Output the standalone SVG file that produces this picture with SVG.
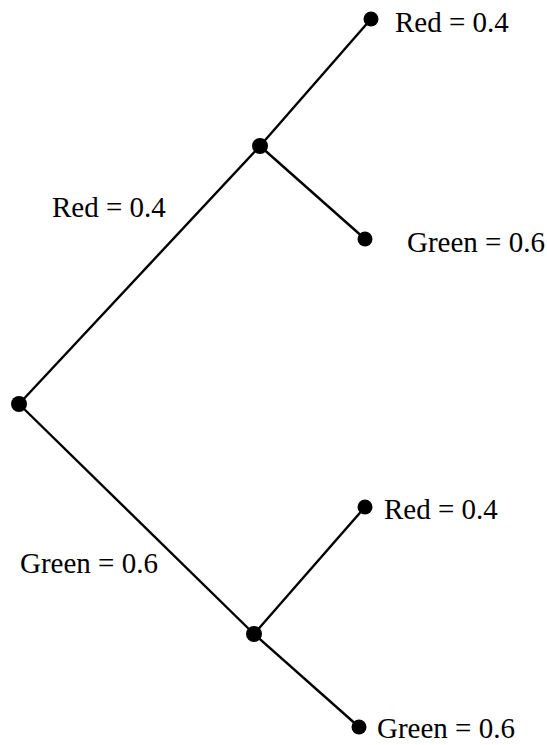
<svg xmlns="http://www.w3.org/2000/svg" width="547" height="745" viewBox="0 0 547 745">
<style>
.e{stroke:#000;stroke-width:2.4;fill:none}
.n{fill:#000}
.t{font-family:'Liberation Serif','Times New Roman',serif;font-size:29px;fill:#000}
</style>
<rect width="547" height="745" fill="#fff"/>
<g id="connectors">
<line class="e" x1="19" y1="404" x2="260" y2="146"/>
<line class="e" x1="260" y1="146" x2="371" y2="19"/>
<line class="e" x1="260" y1="146" x2="365" y2="239"/>
<line class="e" x1="19" y1="404" x2="254" y2="634"/>
<line class="e" x1="254" y1="634" x2="365" y2="507"/>
<line class="e" x1="254" y1="634" x2="359" y2="727"/>
</g>
<g id="root"><circle class="n" cx="19" cy="404" r="8"/></g>
<g id="upper"><circle class="n" cx="260" cy="146" r="8"/></g>
<g id="lower"><circle class="n" cx="254" cy="634" r="8"/></g>
<g id="leaf-rr"><circle class="n" cx="371" cy="19" r="7.5"/><text class="t" x="395" y="32">Red = 0.4</text></g>
<g id="leaf-rg"><circle class="n" cx="365" cy="239" r="7.5"/><text class="t" x="407" y="252">Green = 0.6</text></g>
<g id="leaf-gr"><circle class="n" cx="365" cy="507" r="7.5"/><text class="t" x="384" y="519">Red = 0.4</text></g>
<g id="leaf-gg"><circle class="n" cx="359" cy="727" r="7.5"/><text class="t" x="377" y="738">Green = 0.6</text></g>
<g id="labels">
<text class="t" x="52" y="217">Red = 0.4</text>
<text class="t" x="20" y="573">Green = 0.6</text>
</g>
</svg>
